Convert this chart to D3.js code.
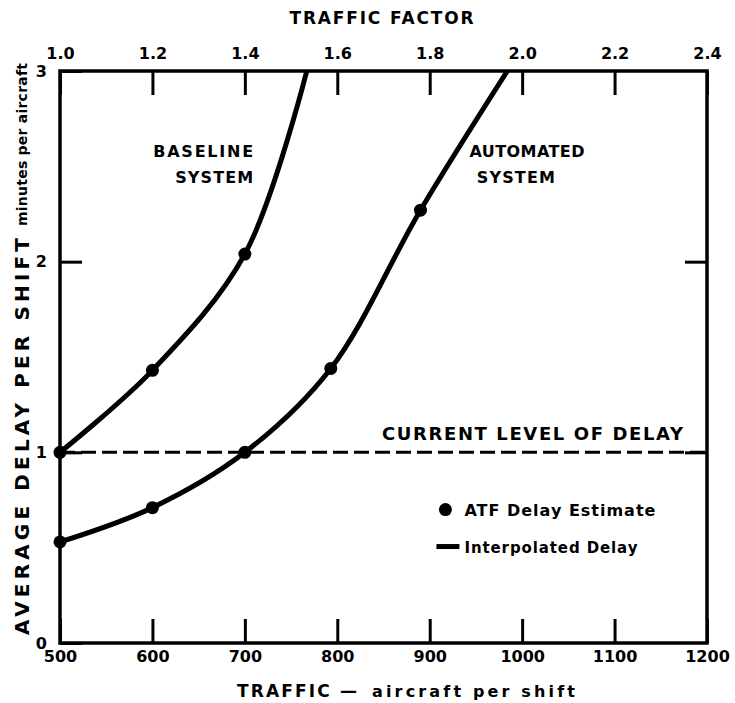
<!DOCTYPE html>
<html>
<head>
<meta charset="utf-8">
<script src="https://cdn.jsdelivr.net/npm/d3@7"></script>
<style>
  body { margin: 0; background: #fff; }
  text { font-family: "DejaVu Sans", sans-serif; font-weight: bold; fill: #000; }
</style>
</head>
<body>
<div id="chart"></div>
<script>
// data
var trafficTicks = [500, 600, 700, 800, 900, 1000, 1100, 1200];
var factorTicks = [1.0, 1.2, 1.4, 1.6, 1.8, 2.0, 2.2, 2.4];
var delayTicks = [0, 1, 2, 3];

// ATF delay estimates (dots)
var baselineTraffic = [500, 600, 700];
var baselineDelay = [1.0, 1.43, 2.04];
var automatedTraffic = [500, 600, 700, 793, 890];
var automatedDelay = [0.53, 0.71, 1.0, 1.44, 2.27];

// where each interpolated curve leaves the top of the frame
var baselineEnd = [767, 3.0];
var automatedEnd = [984, 3.0];

var currentDelay = 1.0;

var W = 735, H = 703;
var margin = { top: 71, right: 28, bottom: 60, left: 60 },
  width = W - margin.left - margin.right,
  height = H - margin.top - margin.bottom;

var svg = d3.select("#chart")
  .append("svg")
  .attr("width", W)
  .attr("height", H)
  .append("g")
  .attr("transform", "translate(" + margin.left + "," + margin.top + ")");

var x = d3.scaleLinear().domain([500, 1200]).range([0, width]);
var xf = d3.scaleLinear().domain([1.0, 2.4]).range([0, width]);
var y = d3.scaleLinear().domain([0, 3]).range([height, 0]);

function styleAxis(g) {
  g.select(".domain").remove();
  g.selectAll(".tick line").attr("stroke", "#000").attr("stroke-width", 3);
  g.selectAll(".tick text").style("font-size", "16px").attr("fill", "#000");
}

// bottom axis, ticks pointing in
svg.append("g")
  .attr("transform", "translate(0," + height + ")")
  .call(d3.axisBottom(x).tickValues(trafficTicks).tickSize(-24).tickPadding(8).tickFormat(d3.format("d")))
  .call(styleAxis);

// top axis: traffic factor
svg.append("g")
  .call(d3.axisTop(xf).tickValues(factorTicks).tickSize(-24).tickPadding(12).tickFormat(d3.format(".1f")))
  .call(styleAxis);

// left axis
svg.append("g")
  .call(d3.axisLeft(y).tickValues(delayTicks).tickSize(-22).tickPadding(13).tickFormat(d3.format("d")))
  .call(styleAxis);

// right axis, ticks only
svg.append("g")
  .attr("transform", "translate(" + width + ",0)")
  .call(d3.axisRight(y).tickValues([1, 2]).tickSize(-22).tickFormat(""))
  .call(styleAxis);

// frame
svg.append("rect")
  .attr("width", width)
  .attr("height", height)
  .attr("fill", "none")
  .attr("stroke", "#000")
  .attr("stroke-width", 3.5);

// current level of delay
svg.append("line")
  .attr("x1", 0)
  .attr("x2", width)
  .attr("y1", y(currentDelay))
  .attr("y2", y(currentDelay))
  .attr("stroke", "#000")
  .attr("stroke-width", 3)
  .attr("stroke-dasharray", "15,6");

svg.append("text")
  .attr("x", x(1174))
  .attr("y", y(currentDelay) - 12)
  .attr("text-anchor", "end")
  .attr("textLength", 301)
  .attr("lengthAdjust", "spacing")
  .style("font-size", "18px")
  .text("CURRENT LEVEL OF DELAY");

svg.append("clipPath").attr("id", "clip")
  .append("rect").attr("width", width).attr("height", height);

var line = d3.line()
  .x(function (d) { return x(d[0]); })
  .y(function (d) { return y(d[1]); })
  .curve(d3.curveCatmullRom.alpha(0.5));

var baseline = baselineTraffic.map(function (t, i) { return [t, baselineDelay[i]]; });
var automated = automatedTraffic.map(function (t, i) { return [t, automatedDelay[i]]; });

[baseline.concat([baselineEnd]), automated.concat([automatedEnd])].forEach(function (pts) {
  svg.append("path")
    .datum(pts)
    .attr("clip-path", "url(#clip)")
    .attr("fill", "none")
    .attr("stroke", "#000")
    .attr("stroke-width", 5)
    .attr("stroke-linecap", "round")
    .attr("d", line);
});

svg.selectAll("circle.est")
  .data(baseline.concat(automated))
  .enter()
  .append("circle")
  .attr("class", "est")
  .attr("cx", function (d) { return x(d[0]); })
  .attr("cy", function (d) { return y(d[1]); })
  .attr("r", 6.5)
  .attr("fill", "#000");

// curve labels
var lab = svg.append("g").style("font-size", "16px");
lab.append("text").attr("x", x(709)).attr("y", y(2.55)).attr("text-anchor", "end")
  .attr("textLength", 100).text("BASELINE");
lab.append("text").attr("x", x(709)).attr("y", y(2.41)).attr("text-anchor", "end")
  .attr("textLength", 78).text("SYSTEM");
lab.append("text").attr("x", x(943)).attr("y", y(2.55))
  .attr("textLength", 115).text("AUTOMATED");
lab.append("text").attr("x", x(951)).attr("y", y(2.41))
  .attr("textLength", 78).text("SYSTEM");

// legend
var leg = svg.append("g").attr("transform", "translate(" + x(917) + "," + y(0.7) + ")");
leg.append("circle").attr("cx", 0).attr("cy", 0).attr("r", 6.5).attr("fill", "#000");
leg.append("text").attr("x", 19).attr("y", 6).attr("textLength", 191)
  .style("font-size", "16px").text("ATF Delay Estimate");
leg.append("line").attr("x1", -9).attr("x2", 14).attr("y1", 37).attr("y2", 37)
  .attr("stroke", "#000").attr("stroke-width", 5);
leg.append("text").attr("x", 19).attr("y", 43).attr("textLength", 173)
  .style("font-size", "15px").text("Interpolated Delay");

// axis titles
svg.append("text")
  .attr("x", x(850) - 2)
  .attr("y", -47)
  .attr("text-anchor", "middle")
  .attr("textLength", 184)
  .style("font-size", "17px")
  .text("TRAFFIC FACTOR");

svg.append("text")
  .attr("x", 177)
  .attr("y", height + 54)
  .attr("textLength", 120)
  .style("font-size", "17px")
  .text("TRAFFIC \u2014");
svg.append("text")
  .attr("x", 312)
  .attr("y", height + 54)
  .attr("textLength", 203)
  .style("font-size", "16px")
  .text("aircraft per shift");

svg.append("text")
  .attr("transform", "translate(-31," + (height - 8) + ")rotate(-90)")
  .attr("textLength", 397)
  .style("font-size", "20px")
  .text("AVERAGE DELAY PER SHIFT");
svg.append("text")
  .attr("transform", "translate(-33," + (height - 417) + ")rotate(-90)")
  .attr("textLength", 163)
  .style("font-size", "14px")
  .text("minutes per aircraft");
</script>
</body>
</html>
